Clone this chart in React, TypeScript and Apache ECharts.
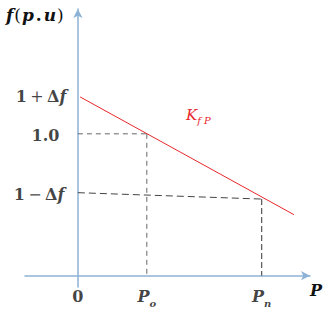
import React, { useEffect, useRef } from "react";
import * as echarts from "echarts";

// x positions of the marked operating points: 0, P_o, P_n
const xTickValues = [0, 3, 8];
const xTickTexts = ["{n|0}", "{b|P}{s|o}", "{b|P}{s|n}"];
// y levels marked on the f(p.u) axis
const yLevelValues = [1.26, 0.985, 0.57];
const yLevelTexts = ["{n|1} {o|+} {n|Δ}{i|f}", "{n|1.0}", "{n|1} {o|−} {n|Δ}{i|f}"];
// droop characteristic K_fP
const kfpLine = [
  [0.1, 1.26],
  [9.4, 0.43],
];
// reference dashed lines
const upperH = [
  [0, 1.0],
  [3, 1.0],
];
const upperV = [
  [3, 1.0],
  [3, 0],
];
const lowerH = [
  [0, 0.585],
  [8, 0.54],
];
const lowerV = [
  [8, 0.54],
  [8, 0],
];

const SERIF = "DejaVu Serif";
const INK = "#111";
const RED = "#e8262b";
const baseRich = (c: string) => ({
  n: { fontFamily: SERIF, fontWeight: "bold", fontSize: 16, [c]: INK, lineHeight: 24 },
  o: { fontFamily: SERIF, fontWeight: "normal", fontSize: 16, [c]: INK, lineHeight: 24 },
  i: { fontFamily: SERIF, fontWeight: "bold", fontStyle: "italic", fontSize: 16, [c]: INK, lineHeight: 24 },
  b: { fontFamily: SERIF, fontWeight: "bold", fontStyle: "italic", fontSize: 16, [c]: INK, lineHeight: 24 },
  ti: { fontFamily: SERIF, fontWeight: "bold", fontStyle: "italic", fontSize: 17, [c]: INK, lineHeight: 24 },
  tp: {
    fontFamily: SERIF,
    fontWeight: "normal",
    fontSize: 17,
    [c]: INK,
    lineHeight: 24,
    padding: [0, 1, 0, 1],
  },
  td: { fontFamily: SERIF, fontWeight: "bold", fontSize: 17, [c]: INK, lineHeight: 24, padding: [0, 2, 0, 2] },
  s: {
    fontFamily: SERIF,
    fontWeight: "bold",
    fontStyle: "italic",
    fontSize: 10,
    [c]: INK,
    lineHeight: 12,
    verticalAlign: "bottom",
  },
  r: { fontFamily: SERIF, fontSize: 15, fontStyle: "italic", [c]: RED, lineHeight: 22 },
  rs: {
    fontFamily: SERIF,
    fontSize: 10,
    fontStyle: "italic",
    [c]: RED,
    lineHeight: 12,
    verticalAlign: "bottom",
  },
});
const labelRich = baseRich("color");
const graphicRich = baseRich("fill");

const AXIS_COLOR = "#8db2d6";
const yLabelShift = [-6, -13, -8];

export default function App() {
  const ref = useRef<HTMLDivElement>(null);
  useEffect(() => {
    if (!ref.current) return;
    const chart = echarts.init(ref.current, undefined, { renderer: "svg" });
    const dashed = (data: number[][], color: string, dash: number[]) => ({
      type: "line",
      data,
      symbol: "none",
      silent: true,
      lineStyle: { color, width: 1, type: dash },
    });
    const yLabelSeries = yLevelValues.map((v, i) => ({
      type: "scatter",
      clip: false,
      symbolSize: 1,
      itemStyle: { color: "rgba(0,0,0,0)" },
      label: {
        show: true,
        position: "left",
        offset: [yLabelShift[i], 0],
        formatter: yLevelTexts[i],
        rich: labelRich,
      },
      data: [[0, v]],
    }));
    chart.setOption({
      animation: false,
      grid: { left: 25, right: 26, top: 9, bottom: 23, containLabel: false },
      xAxis: {
        type: "value",
        min: -2.3,
        max: 10.1,
        axisLine: {
          show: true,
          onZero: true,
          symbol: ["none", "arrow"],
          symbolSize: [7, 9],
          lineStyle: { color: AXIS_COLOR, width: 1.5 },
        },
        axisTick: { show: false },
        axisLabel: { show: false },
        splitLine: { show: false },
      },
      yAxis: {
        type: "value",
        min: -0.08,
        max: 1.88,
        axisLine: {
          show: true,
          onZero: true,
          symbol: ["none", "arrow"],
          symbolSize: [7, 9],
          lineStyle: { color: AXIS_COLOR, width: 1.5 },
        },
        axisTick: { show: false },
        axisLabel: { show: false },
        splitLine: { show: false },
      },
      series: [
        dashed(upperH, "#666", [5, 4]),
        dashed(upperV, "#666", [5, 4]),
        dashed(lowerH, "#444", [7, 4]),
        dashed(lowerV, "#333", [6, 3]),
        {
          type: "line",
          data: kfpLine,
          symbol: "none",
          lineStyle: { color: RED, width: 1 },
        },
        {
          type: "scatter",
          clip: false,
          symbolSize: 1,
          itemStyle: { color: "rgba(0,0,0,0)" },
          data: xTickValues.map((v, i) => ({
            value: [v, -0.15],
            label: {
              show: true,
              position: "inside",
              formatter: xTickTexts[i],
              rich: labelRich,
            },
          })),
        },
        ...yLabelSeries,
      ],
      graphic: [
        {
          type: "text",
          left: 6,
          top: 6,
          style: {
            text: "{ti|f}{tp|(}{ti|p}{td|.}{ti|u}{tp|)}",
            rich: graphicRich,
          },
        },
        {
          type: "text",
          left: 310,
          top: 282,
          style: { text: "{b|P}", rich: graphicRich },
        },
        {
          type: "text",
          left: 186,
          top: 107,
          style: { text: "{r|K}{rs|f P}", rich: graphicRich },
        },
      ],
    });
    return () => chart.dispose();
  }, []);
  return (
    <div
      ref={ref}
      style={{ position: "absolute", left: 0, top: 0, width: 336, height: 310, background: "#fff" }}
    />
  );
}
